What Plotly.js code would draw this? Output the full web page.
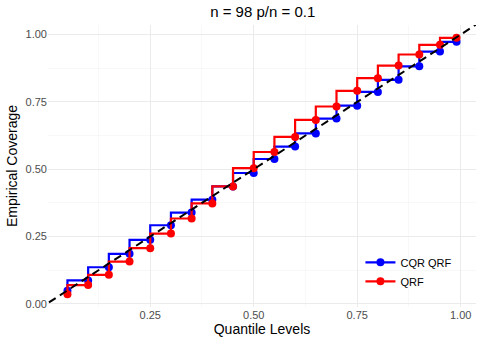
<!DOCTYPE html>
<html>
<head>
<meta charset="utf-8">
<script src="https://cdn.plot.ly/plotly-3.0.1.min.js"></script>
<style>
  html, body { margin: 0; padding: 0; background: #fff; }
  #chart { width: 482px; height: 344px; }
</style>
</head>
<body>
<div id="chart"></div>
<script>
// quantile levels on the x axis
const levels = [0.05, 0.10, 0.15, 0.20, 0.25, 0.30, 0.35, 0.40, 0.45, 0.50,
                0.55, 0.60, 0.65, 0.70, 0.75, 0.80, 0.85, 0.90, 0.95, 0.99];

// empirical coverage per method
const cqrQrf = [0.049, 0.087, 0.136, 0.186, 0.238, 0.292, 0.339, 0.387, 0.436, 0.486,
                0.538, 0.584, 0.633, 0.688, 0.736, 0.787, 0.832, 0.882, 0.937, 0.973];
const qrf    = [0.036, 0.070, 0.108, 0.157, 0.207, 0.261, 0.317, 0.373, 0.436, 0.504,
                0.564, 0.620, 0.683, 0.733, 0.791, 0.838, 0.885, 0.926, 0.962, 0.988];

// y = x reference line
const diagonal = [-0.1, 1.1];

const font = "'Liberation Sans', Arial, Helvetica, sans-serif";

const series = [
  {name: 'CQR QRF', y: cqrQrf, color: '#0000FF'},
  {name: 'QRF', y: qrf, color: '#FF0000'},
];

const traces = series.map(s => ({
  x: levels,
  y: s.y,
  name: s.name,
  type: 'scatter',
  mode: 'lines+markers',
  line: {color: s.color, width: 2.2, shape: 'vh'},
  marker: {color: s.color, size: 8},
}));

// dashed diagonal drawn last so it sits on top, like the reference
traces.push({
  x: diagonal,
  y: diagonal,
  type: 'scatter',
  mode: 'lines',
  line: {color: '#000000', width: 2, dash: '8px,5px'},
  showlegend: false,
  hoverinfo: 'skip',
});

const axisCommon = {
  showline: false,
  zeroline: false,
  ticks: '',
  gridcolor: '#EBEBEB',
  gridwidth: 1,
  tickfont: {family: font, size: 11, color: '#4D4D4D'},
  tickformat: '.2f',
  tick0: 0,
  dtick: 0.25,
  minor: {showgrid: true, gridcolor: '#F3F3F3', gridwidth: 0.6, dtick: 0.125, tick0: 0.125},
};

const layout = {
  width: 482,
  height: 344,
  paper_bgcolor: '#FFFFFF',
  plot_bgcolor: '#FFFFFF',
  margin: {l: 48, r: 6, t: 25, b: 37},
  font: {family: font, color: '#000000'},
  title: {
    text: 'n = 98 p/n = 0.1',
    font: {family: font, size: 15, color: '#000000'},
    x: 0.545, xanchor: 'center', y: 0.965, yanchor: 'middle',
  },
  xaxis: Object.assign({}, axisCommon, {
    range: [0.003, 1.037],
    title: {text: 'Quantile Levels', font: {family: font, size: 14}, standoff: 4},
  }),
  yaxis: Object.assign({}, axisCommon, {
    range: [-0.0116, 1.0356],
    title: {text: 'Empirical Coverage', font: {family: font, size: 14}, standoff: 4},
  }),
  showlegend: true,
  legend: {
    x: 0.73, xanchor: 'left',
    y: 0.21, yanchor: 'top',
    bgcolor: 'rgba(0,0,0,0)',
    font: {family: font, size: 11, color: '#000000'},
    tracegroupgap: 0,
  },
};

Plotly.newPlot('chart', traces, layout, {displayModeBar: false, staticPlot: true});
</script>
</body>
</html>
